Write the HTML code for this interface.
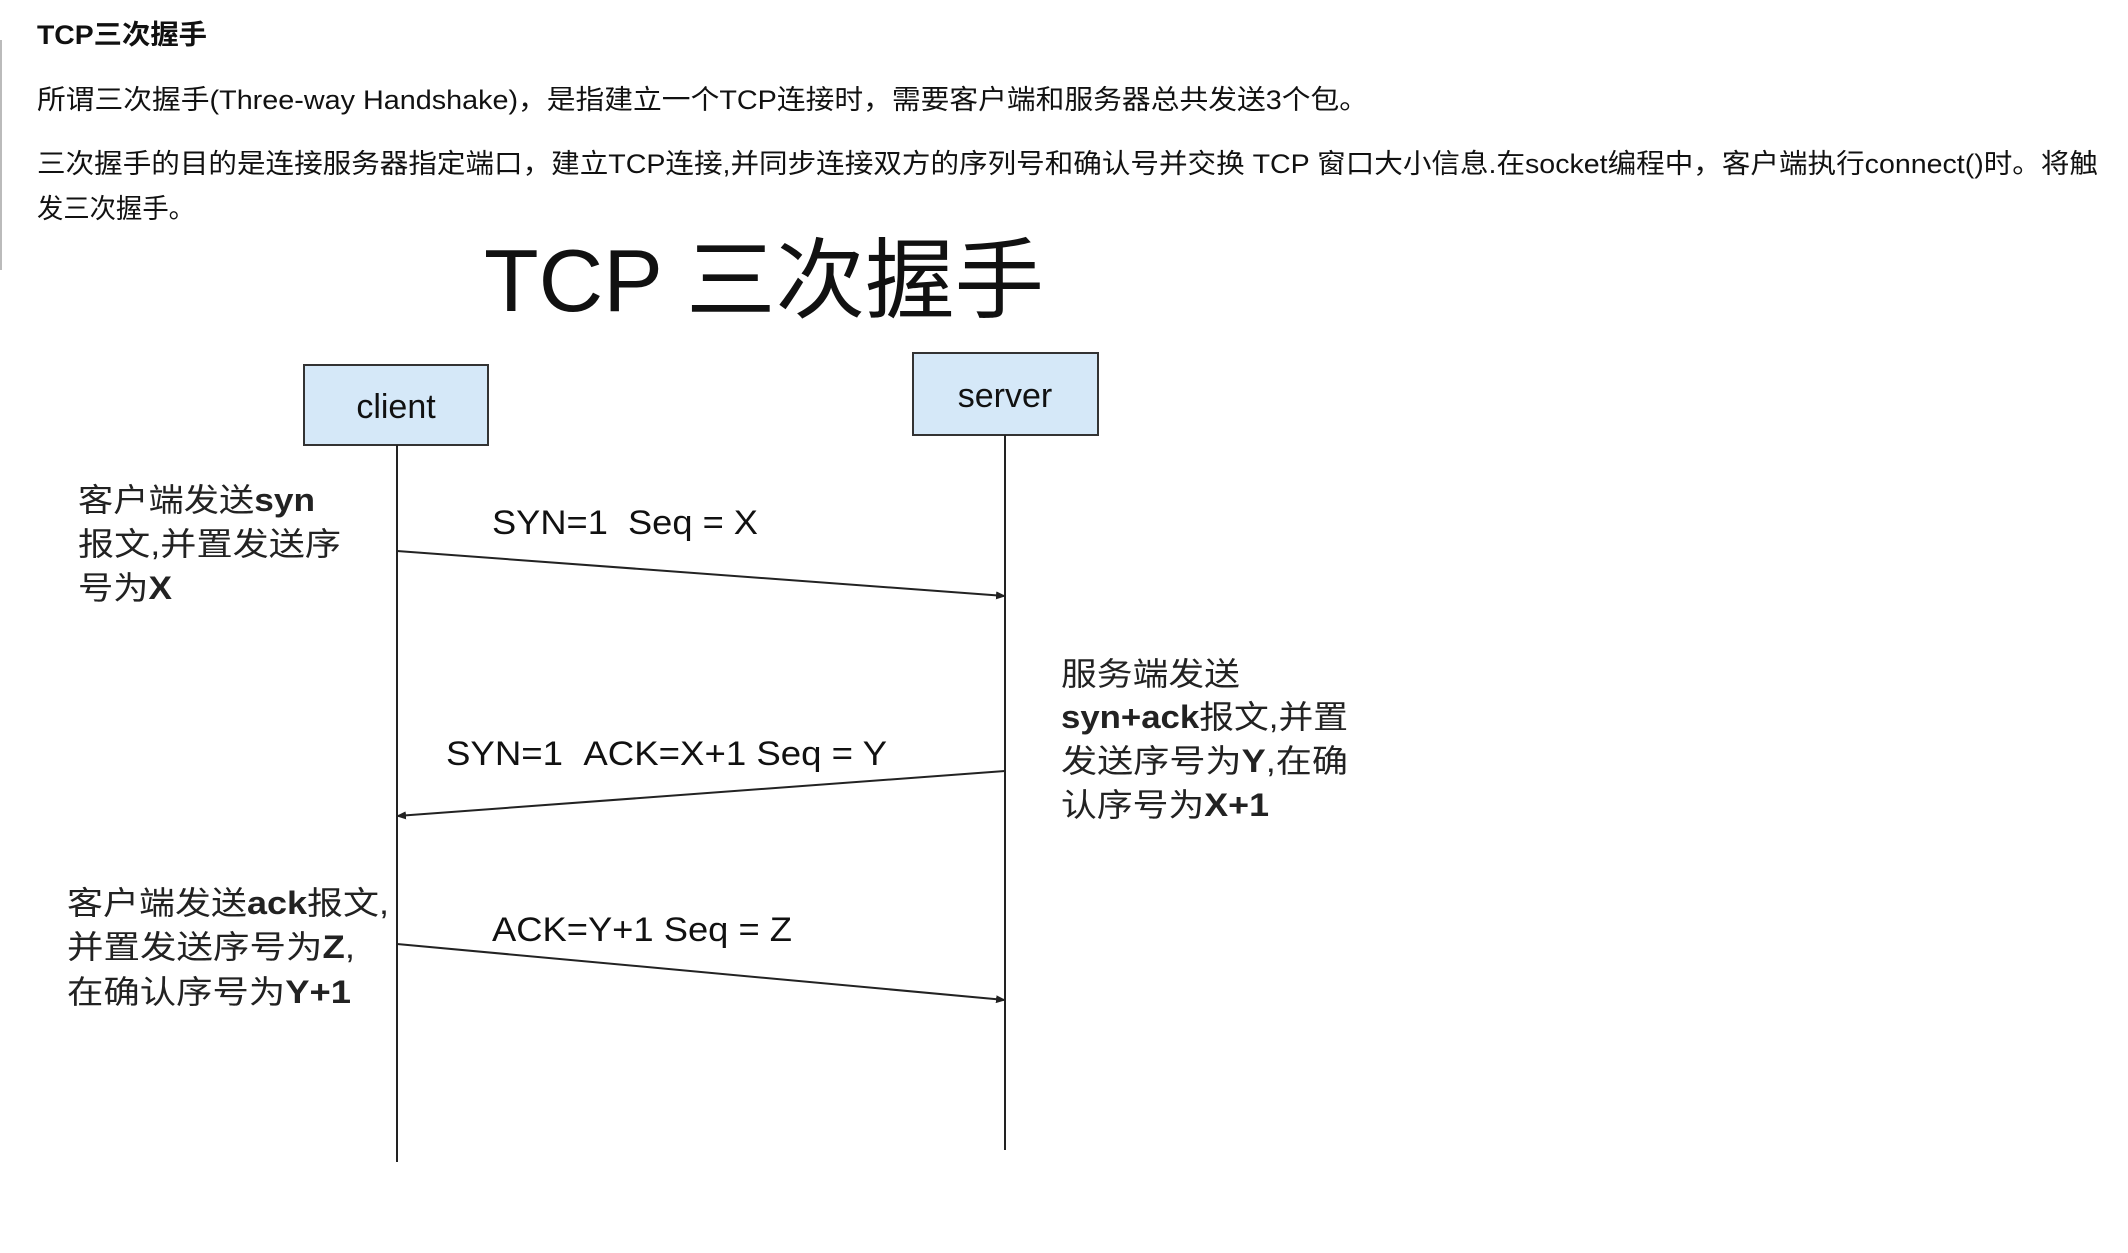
<!DOCTYPE html>
<html><head><meta charset="utf-8"><style>
html,body{margin:0;padding:0;background:#fff;}
svg text{font-family:"Liberation Sans","Noto Sans CJK SC",sans-serif;}
</style></head><body>
<svg width="2128" height="1248" viewBox="0 0 2128 1248" xmlns="http://www.w3.org/2000/svg">
<rect width="2128" height="1248" fill="#fff"/>
<line x1="1" y1="40" x2="1" y2="270" stroke="#bbb" stroke-width="2"/>
<text x="37" y="44" font-size="27" font-weight="bold" fill="#111" textLength="170" lengthAdjust="spacingAndGlyphs">TCP三次握手</text>
<text x="37" y="109" font-size="27" fill="#111" textLength="1331" lengthAdjust="spacingAndGlyphs">所谓三次握手(Three-way Handshake)，是指建立一个TCP连接时，需要客户端和服务器总共发送3个包。</text>
<text x="37" y="173" font-size="27" fill="#111" textLength="2061" lengthAdjust="spacingAndGlyphs">三次握手的目的是连接服务器指定端口，建立TCP连接,并同步连接双方的序列号和确认号并交换 TCP 窗口大小信息.在socket编程中，客户端执行connect()时。将触</text>
<text x="37" y="218" font-size="27" fill="#111" textLength="158" lengthAdjust="spacingAndGlyphs">发三次握手。</text>
<text x="484" y="311" font-size="88" fill="#111" textLength="560" lengthAdjust="spacingAndGlyphs">TCP 三次握手</text>
<rect x="304" y="365" width="184" height="80" fill="#d5e8f8" stroke="#333" stroke-width="2"/>
<text x="396" y="418" font-size="34" text-anchor="middle" fill="#111">client</text>
<rect x="913" y="353" width="185" height="82" fill="#d5e8f8" stroke="#333" stroke-width="2"/>
<text x="1005" y="407" font-size="34" text-anchor="middle" fill="#111">server</text>
<line x1="397" y1="445" x2="397" y2="1162" stroke="#222" stroke-width="2"/>
<line x1="1005" y1="435" x2="1005" y2="1150" stroke="#222" stroke-width="2"/>
<defs><marker id="a" markerWidth="10" markerHeight="8" refX="9" refY="4" orient="auto" markerUnits="userSpaceOnUse"><path d="M0,0 L10,4 L0,8 z" fill="#222"/></marker></defs>
<line x1="397" y1="551" x2="1005" y2="596" stroke="#222" stroke-width="2" marker-end="url(#a)"/>
<line x1="1005" y1="771" x2="397" y2="816" stroke="#222" stroke-width="2" marker-end="url(#a)"/>
<line x1="397" y1="944" x2="1005" y2="1000" stroke="#222" stroke-width="2" marker-end="url(#a)"/>
<g font-size="34" fill="#111">
<text x="492" y="534" textLength="266" lengthAdjust="spacingAndGlyphs">SYN=1&#160;&#160;Seq = X</text>
<text x="446" y="765" textLength="441" lengthAdjust="spacingAndGlyphs">SYN=1&#160;&#160;ACK=X+1 Seq = Y</text>
<text x="492" y="941" textLength="300" lengthAdjust="spacingAndGlyphs">ACK=Y+1 Seq = Z</text>
</g>
<g font-size="32" fill="#222">
<text x="78" y="511" textLength="237" lengthAdjust="spacingAndGlyphs">客户端发送<tspan font-weight="bold">syn</tspan></text>
<text x="78" y="555" textLength="263" lengthAdjust="spacingAndGlyphs">报文,并置发送序</text>
<text x="78" y="599" textLength="94" lengthAdjust="spacingAndGlyphs">号为<tspan font-weight="bold">X</tspan></text>
<text x="1061" y="685" textLength="179" lengthAdjust="spacingAndGlyphs">服务端发送</text>
<text x="1061" y="728" textLength="287" lengthAdjust="spacingAndGlyphs"><tspan font-weight="bold">syn+ack</tspan>报文,并置</text>
<text x="1061" y="772" textLength="287" lengthAdjust="spacingAndGlyphs">发送序号为<tspan font-weight="bold">Y</tspan>,在确</text>
<text x="1061" y="816" textLength="208" lengthAdjust="spacingAndGlyphs">认序号为<tspan font-weight="bold">X+1</tspan></text>
<text x="67" y="914" textLength="322" lengthAdjust="spacingAndGlyphs">客户端发送<tspan font-weight="bold">ack</tspan>报文,</text>
<text x="67" y="958" textLength="288" lengthAdjust="spacingAndGlyphs">并置发送序号为<tspan font-weight="bold">Z</tspan>,</text>
<text x="67" y="1003" textLength="284" lengthAdjust="spacingAndGlyphs">在确认序号为<tspan font-weight="bold">Y+1</tspan></text>
</g>
</svg>
</body></html>
